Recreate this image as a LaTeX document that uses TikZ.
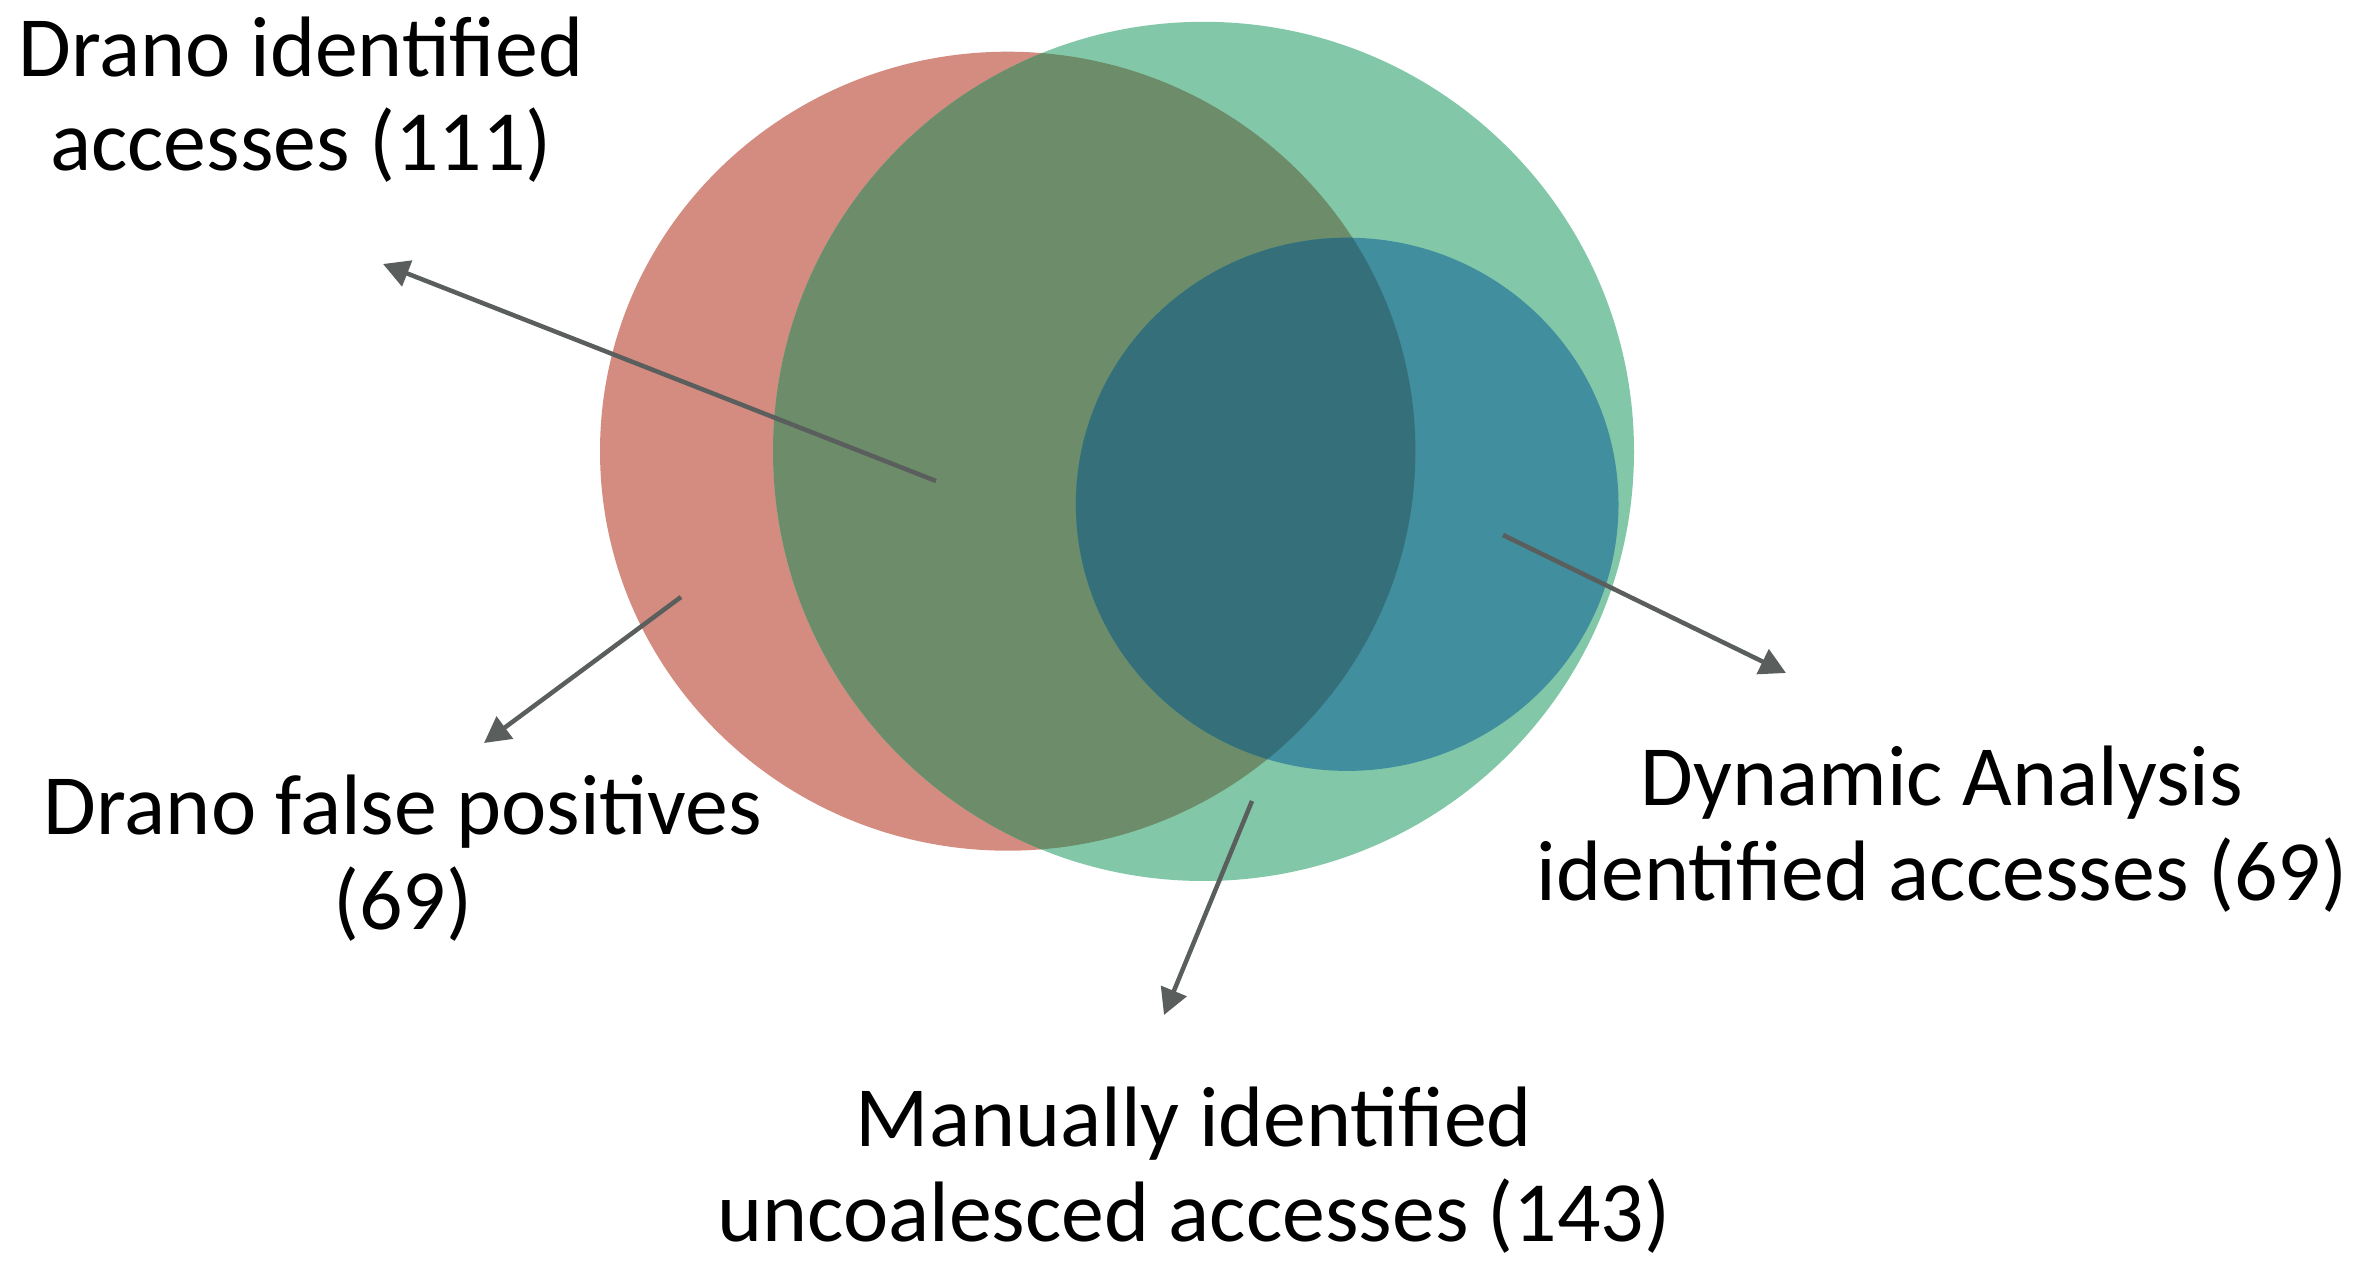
\documentclass[tikz,border=0pt]{standalone}
\usepackage{fontspec}
\setmainfont{Carlito}
\usetikzlibrary{arrows.meta}
\definecolor{setred}{RGB}{212,139,128}
\definecolor{setgreen}{RGB}{130,200,168}
\definecolor{setolive}{RGB}{108,140,106}
\definecolor{setblue}{RGB}{64,142,158}
\definecolor{setdark}{RGB}{52,111,122}
\definecolor{arrowgray}{RGB}{90,94,92}
\begin{document}
\begin{tikzpicture}[x=0.01cm,y=-0.01cm,
  lbl/.style={align=center,anchor=base,inner sep=0pt,font=\fontsize{24.4pt}{26.8pt}\selectfont},
  pointer/.style={draw=arrowgray,line width=0.045cm,-{Triangle[length=0.26cm,width=0.27cm]}}]
\useasboundingbox (0,0) rectangle (2372,1264);
\fill[white] (0,0) rectangle (2372,1264);
% sets
\fill[setred] (1007.7,451.2) ellipse [x radius=407.7, y radius=399.5];
\fill[setgreen] (1203.5,451.4) ellipse [x radius=430.5, y radius=429.6];
\begin{scope}
  \clip (1007.7,451.2) ellipse [x radius=407.7, y radius=399.5];
  \fill[setolive] (1203.5,451.4) ellipse [x radius=430.5, y radius=429.6];
\end{scope}
\fill[setblue] (1347.2,504.3) ellipse [x radius=271.3, y radius=266.6];
\begin{scope}
  \clip (1007.7,451.2) ellipse [x radius=407.7, y radius=399.5];
  \fill[setdark] (1347.2,504.3) ellipse [x radius=271.3, y radius=266.6];
\end{scope}
% labels (anchor = baseline of the last line)
\node[lbl] (drano) at (301,171) {Drano identified\\accesses (111)};
\node[lbl] (falsepos) at (403,929) {Drano false positives\\(69)};
\node[lbl] (dynamic) at (1942,900) {Dynamic Analysis\\identified accesses (69)};
\node[lbl] (manual) at (1194,1241) {Manually identified\\uncoalesced accesses (143)};
% pointer ends
\coordinate (a1s) at (936,481);  \coordinate (a1e) at (383,264);
\coordinate (a2s) at (681,597);  \coordinate (a2e) at (484,743);
\coordinate (a3s) at (1503,535); \coordinate (a3e) at (1786,673);
\coordinate (a4s) at (1252,801); \coordinate (a4e) at (1164,1015);
\draw[pointer] (a1s) -- (a1e);
\draw[pointer] (a2s) -- (a2e);
\draw[pointer] (a3s) -- (a3e);
\draw[pointer] (a4s) -- (a4e);
\end{tikzpicture}
\end{document}
